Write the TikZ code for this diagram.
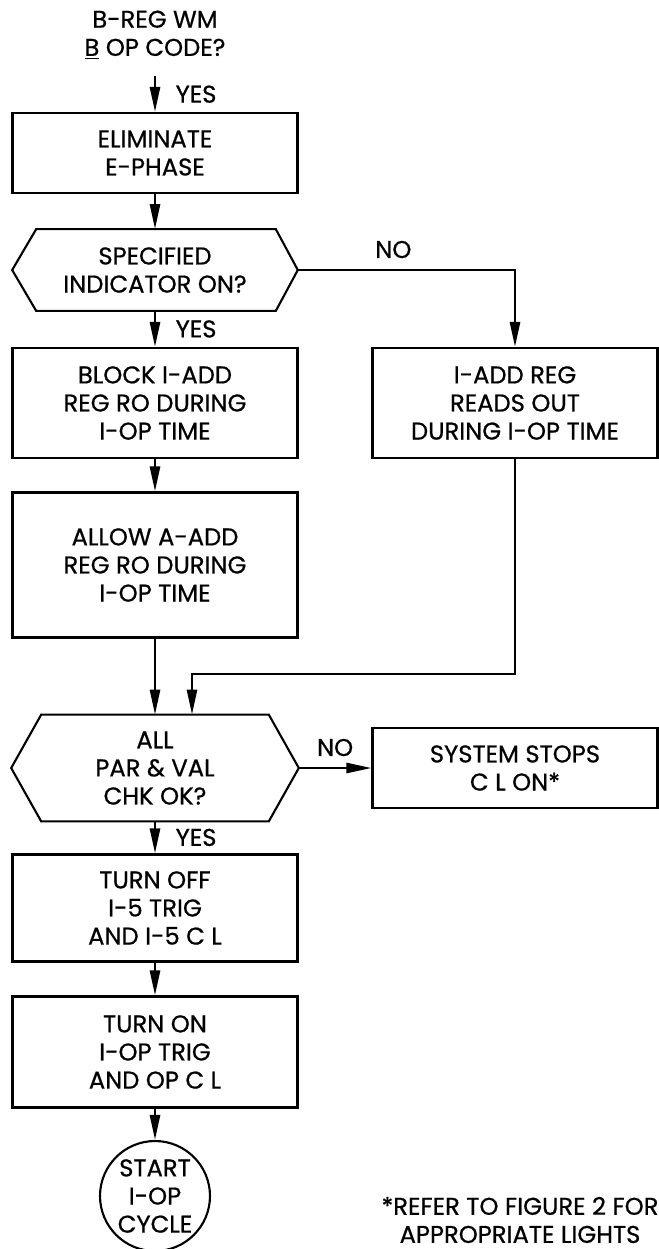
\documentclass[tikz,border=0pt]{standalone}
\usepackage{fontspec}
\setmainfont{Poppins}[FakeBold=0.7]
\usepackage{tikz}
\usetikzlibrary{arrows.meta, positioning, calc}

\begin{document}
\begin{tikzpicture}[
    x=0.02cm, y=-0.02cm,
    every node/.style={font=\fontsize{13.8}{16}\selectfont, align=center},
    box/.style={draw, line width=1.2pt, minimum width=5.7cm, minimum height=2.2cm, inner sep=0pt},
    decision/.style={minimum width=5.7cm, minimum height=1.62cm, inner sep=0pt},
    hexline/.style={line width=1.2pt, line join=miter},
    terminal/.style={draw, circle, line width=1.2pt, minimum size=2.2cm, inner sep=0pt},
    tag/.style={inner sep=1pt},
    arrow/.style={-{Triangle[length=5mm, width=2mm]}, line width=1.5pt}
]
    \useasboundingbox (0,0) rectangle (659,1249);

    % Question on top
    \node[minimum height=1.64cm] (bwm) at (155,35) {B-REG WM\\\underline{B} OP CODE?};

    % Main column
    \node[box, minimum height=1.6cm] (elim) at (155,153) {ELIMINATE\\E-PHASE};
    \node[decision] (spec) at (155,270) {SPECIFIED\\INDICATOR ON?};
    \node[box] (block) at (155,403) {BLOCK I-ADD\\REG RO DURING\\I-OP TIME};
    \node[box, minimum height=2.9cm] (allow) at (155,565) {ALLOW A-ADD\\REG RO DURING\\I-OP TIME};
    \node[decision, minimum width=5.74cm, minimum height=2.12cm] (check) at (155,768) {ALL\\PAR \& VAL\\CHK OK?};
    \node[box, minimum height=2.14cm] (off) at (155,908) {TURN OFF\\I-5 TRIG\\AND I-5 C L};
    \node[box, minimum height=2.22cm] (on) at (155,1052) {TURN ON\\I-OP TRIG\\AND OP C L};
    \node[terminal] (start) at (155,1196) {START\\I-OP\\CYCLE};

    % Right column
    \node[box] (readout) at (515,403) {I-ADD REG\\READS OUT\\DURING I-OP TIME};
    \node[box, minimum height=1.6cm] (stops) at (515,768) {SYSTEM STOPS\\C L ON*};
    \coordinate (merge) at (192,674);

    % Footnote
    \node[inner sep=0pt] (note) at (520,1220) {*REFER TO FIGURE 2 FOR\\APPROPRIATE LIGHTS};

    % Hexagon outlines
    \draw[hexline] (spec.west) -- ($(spec.north west)+(24,0)$) -- ($(spec.north east)+(-22,0)$) -- (spec.east)
        -- ($(spec.south east)+(-22,0)$) -- ($(spec.south west)+(24,0)$) -- cycle;
    \draw[hexline] (check.west) -- ($(check.north west)+(30,0)$) -- ($(check.north east)+(-30,0)$) -- (check.east)
        -- ($(check.south east)+(-30,0)$) -- ($(check.south west)+(30,0)$) -- cycle;

    % Arrows
    \draw[arrow] (bwm) -- node[tag, right=10pt] {YES} (elim);
    \draw[arrow] (elim) -- (spec);
    \draw[arrow] (spec) -- node[tag, right=10pt] {YES} (block);
    \draw[arrow] (spec.east) -| node[tag, pos=0.22, above=5pt] {NO} (readout.north);
    \draw[arrow] (block) -- (allow);
    \draw[arrow] (allow) -- (check);
    \draw[arrow] (readout.south) |- (merge) -- (merge |- check.north);
    \draw[arrow] (check.east) -- node[tag, above=5pt] {NO} (stops.west);
    \draw[arrow] (check) -- node[tag, right=10pt] {YES} (off);
    \draw[arrow] (off) -- (on);
    \draw[arrow] (on) -- (start);
\end{tikzpicture}
\end{document}
